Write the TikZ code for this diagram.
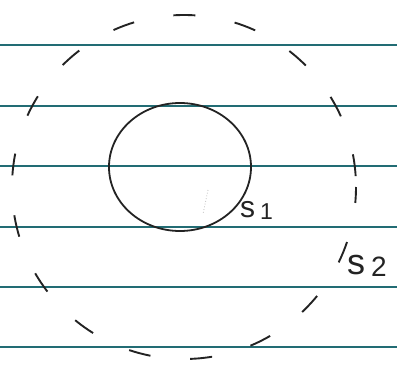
\documentclass[tikz,border=0pt]{standalone}
\usepackage{fontspec}
\setmainfont{Liberation Sans}
\usepackage{tikz}
\usetikzlibrary{
  positioning,
  calc
}
\definecolor{ruled}{RGB}{34,108,116}
\definecolor{pencil}{RGB}{35,35,35}

\begin{document}
\begin{tikzpicture}[x=1pt, y=-1pt]
\useasboundingbox (0,0) rectangle (397,372);
\foreach \ly in {45,106,166,227,287,347} {
  \draw[ruled, line width=2.2pt] (0,\ly) -- (397,\ly);
}
\draw[pencil, line width=1.9pt, dash pattern=on 22pt off 40pt, dash phase=6pt] (184,187) circle[radius=172];
\draw[pencil, line width=1.8pt] (180,167) ellipse[x radius=71, y radius=64];
\draw[black!25, line width=0.8pt, dotted] (208,190) -- (203,214);
\node[text=pencil, font=\fontsize{30}{30}\selectfont, anchor=west, inner sep=0pt] (s1) at (240,210) {s\,\raisebox{-2pt}{\fontsize{23}{23}\selectfont 1}};
\node[text=pencil, font=\fontsize{36}{36}\selectfont, anchor=west, inner sep=0pt] (s2) at (347,266) {s\,\raisebox{-2pt}{\fontsize{28}{28}\selectfont 2}};
\end{tikzpicture}
\end{document}
